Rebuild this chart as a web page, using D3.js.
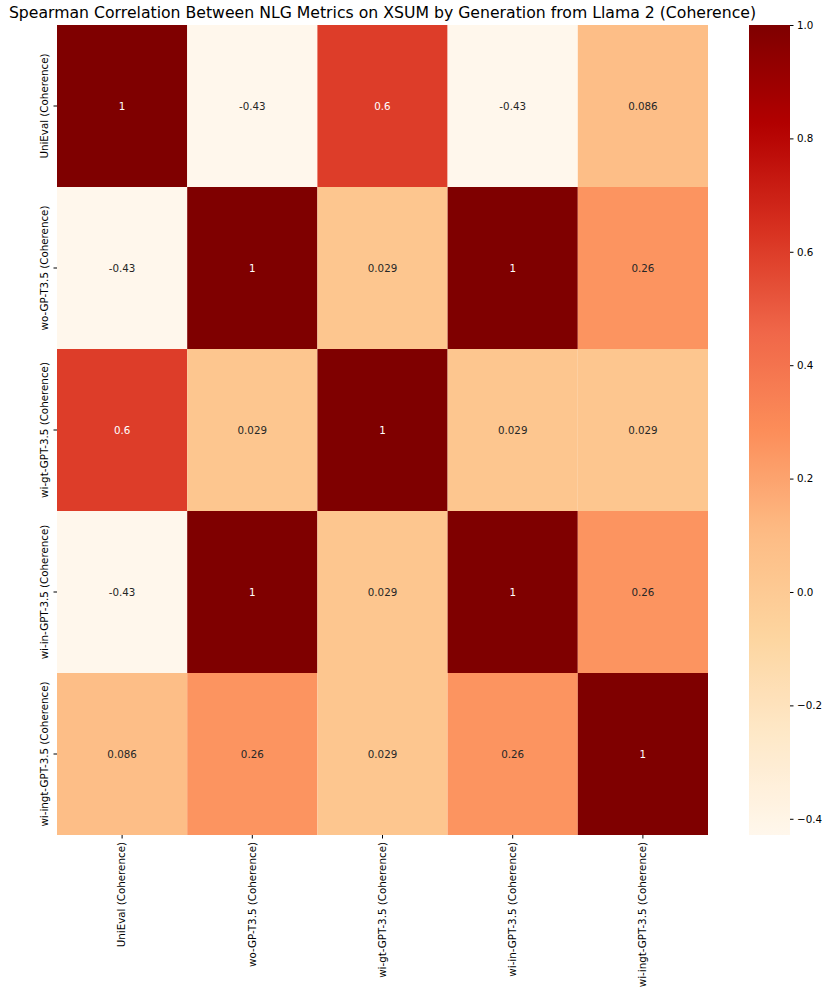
<!DOCTYPE html>
<html>
<head>
<meta charset="utf-8">
<script src="https://cdn.jsdelivr.net/npm/d3@7"></script>
<style>
  body { margin: 0; background: #fff; }
  svg { display: block; font-family: "DejaVu Sans", sans-serif; }
</style>
</head>
<body>
<svg width="830" height="997"></svg>
<script>
// metric names, same order for rows and columns
var metrics = [
  "UniEval (Coherence)",
  "wo-GP-T3.5 (Coherence)",
  "wi-gt-GPT-3.5 (Coherence)",
  "wi-in-GPT-3.5 (Coherence)",
  "wi-ingt-GPT-3.5 (Coherence)"
];

// spearman correlation matrix, row by row
var row0 = [1, -0.4286, 0.6, -0.4286, 0.0857];
var row1 = [-0.4286, 1, 0.0286, 1, 0.2571];
var row2 = [0.6, 0.0286, 1, 0.0286, 0.0286];
var row3 = [-0.4286, 1, 0.0286, 1, 0.2571];
var row4 = [0.0857, 0.2571, 0.0286, 0.2571, 1];
var matrix = [row0, row1, row2, row3, row4];

var colorTicks = [1.0, 0.8, 0.6, 0.4, 0.2, 0.0, -0.2, -0.4];

// OrRd stops (matplotlib style linear segments)
var orrd = ["#fff7ec", "#fee8c8", "#fdd49e", "#fdbb84", "#fc8d59", "#ef6548", "#d7301f", "#b30000", "#7f0000"];

var FONT = "DejaVu Sans, sans-serif", FS = 10.3;

var svg = d3.select("svg"),
    margin = {top: 25, right: 122, bottom: 162, left: 57},
    width = +svg.attr("width") - margin.left - margin.right,
    height = +svg.attr("height") - margin.top - margin.bottom,
    g = svg.append("g").attr("transform", "translate(" + margin.left + "," + margin.top + ")");

var vmin = d3.min(matrix, function(r) { return d3.min(r); }),
    vmax = d3.max(matrix, function(r) { return d3.max(r); });

var t = d3.scaleLinear().domain([vmin, vmax]).range([0, 1]);
var ramp = d3.scaleLinear()
    .domain(d3.range(orrd.length).map(function(i) { return i / (orrd.length - 1); }))
    .range(orrd)
    .interpolate(d3.interpolateRgb);
var color = function(v) { return ramp(t(v)); };

var x = d3.scaleBand().domain(metrics).range([0, width]);
var y = d3.scaleBand().domain(metrics).range([0, height]);

var fmt = d3.formatLocale({decimal: ".", thousands: ",", grouping: [3], currency: ["", ""], minus: "-"}).format(".2~g");

function textColor(c) {
  var rgb = d3.rgb(c);
  var lin = [rgb.r, rgb.g, rgb.b].map(function(v) {
    v /= 255;
    return v <= 0.03928 ? v / 12.92 : Math.pow((v + 0.055) / 1.055, 2.4);
  });
  var lum = 0.2126 * lin[0] + 0.7152 * lin[1] + 0.0722 * lin[2];
  return lum > 0.408 ? "#262626" : "#ffffff";
}

var cells = [];
matrix.forEach(function(r, i) {
  r.forEach(function(v, j) { cells.push({row: metrics[i], col: metrics[j], value: v}); });
});

g.selectAll("rect.cell")
  .data(cells)
  .enter().append("rect")
    .attr("class", "cell")
    .attr("x", function(d) { return x(d.col); })
    .attr("y", function(d) { return y(d.row); })
    .attr("width", x.bandwidth())
    .attr("height", y.bandwidth())
    .attr("fill", function(d) { return color(d.value); });

g.selectAll("text.annot")
  .data(cells)
  .enter().append("text")
    .attr("class", "annot")
    .attr("x", function(d) { return x(d.col) + x.bandwidth() / 2; })
    .attr("y", function(d) { return y(d.row) + y.bandwidth() / 2; })
    .attr("dy", "0.35em")
    .attr("text-anchor", "middle")
    .attr("font-family", FONT)
    .attr("font-size", FS)
    .attr("fill", function(d) { return textColor(color(d.value)); })
    .text(function(d) { return fmt(d.value); });

// x axis, labels rotated
var xAxis = g.append("g")
    .attr("transform", "translate(0," + height + ")")
    .call(d3.axisBottom(x).tickSize(3.5).tickPadding(3.5));
xAxis.attr("font-family", FONT).attr("font-size", FS);
xAxis.select(".domain").remove();
xAxis.selectAll("text")
    .attr("fill", "#000")
    .attr("transform", "rotate(-90)")
    .attr("text-anchor", "end")
    .attr("x", -7)
    .attr("y", 0)
    .attr("dy", "0.32em");

// y axis, labels rotated
var yAxis = g.append("g")
    .call(d3.axisLeft(y).tickSize(3.5).tickPadding(3.5));
yAxis.attr("font-family", FONT).attr("font-size", FS);
yAxis.select(".domain").remove();
yAxis.selectAll("text")
    .attr("fill", "#000")
    .attr("transform", "rotate(-90)")
    .attr("text-anchor", "middle")
    .attr("x", 0)
    .attr("y", -9)
    .attr("dy", 0);

// colorbar
var cbX = 749 - margin.left, cbW = 41;
var cy = d3.scaleLinear().domain([vmin, vmax]).range([height, 0]);

var defs = svg.append("defs");
var grad = defs.append("linearGradient")
    .attr("id", "cbgrad")
    .attr("x1", 0).attr("y1", 1).attr("x2", 0).attr("y2", 0);
grad.selectAll("stop")
  .data(d3.range(0, 1.0001, 0.02))
  .enter().append("stop")
    .attr("offset", function(d) { return d; })
    .attr("stop-color", function(d) { return ramp(d); });

g.append("rect")
    .attr("x", cbX)
    .attr("y", 0)
    .attr("width", cbW)
    .attr("height", height)
    .attr("fill", "url(#cbgrad)");

var cbAxis = g.append("g")
    .attr("transform", "translate(" + (cbX + cbW) + ",0)")
    .call(d3.axisRight(cy).tickValues(colorTicks).tickSize(3.5).tickPadding(3.5)
      .tickFormat(function(d) { return d3.format(".1f")(d); }));
cbAxis.attr("font-family", FONT).attr("font-size", FS);
cbAxis.select(".domain").remove();
cbAxis.selectAll("text").attr("fill", "#000");

// title
svg.append("text")
    .attr("x", margin.left + width / 2)
    .attr("y", 18)
    .attr("text-anchor", "middle")
    .attr("font-family", FONT)
    .attr("font-size", 15.7)
    .attr("fill", "#000")
    .text("Spearman Correlation Between NLG Metrics on XSUM by Generation from Llama 2 (Coherence)");
</script>
</body>
</html>
